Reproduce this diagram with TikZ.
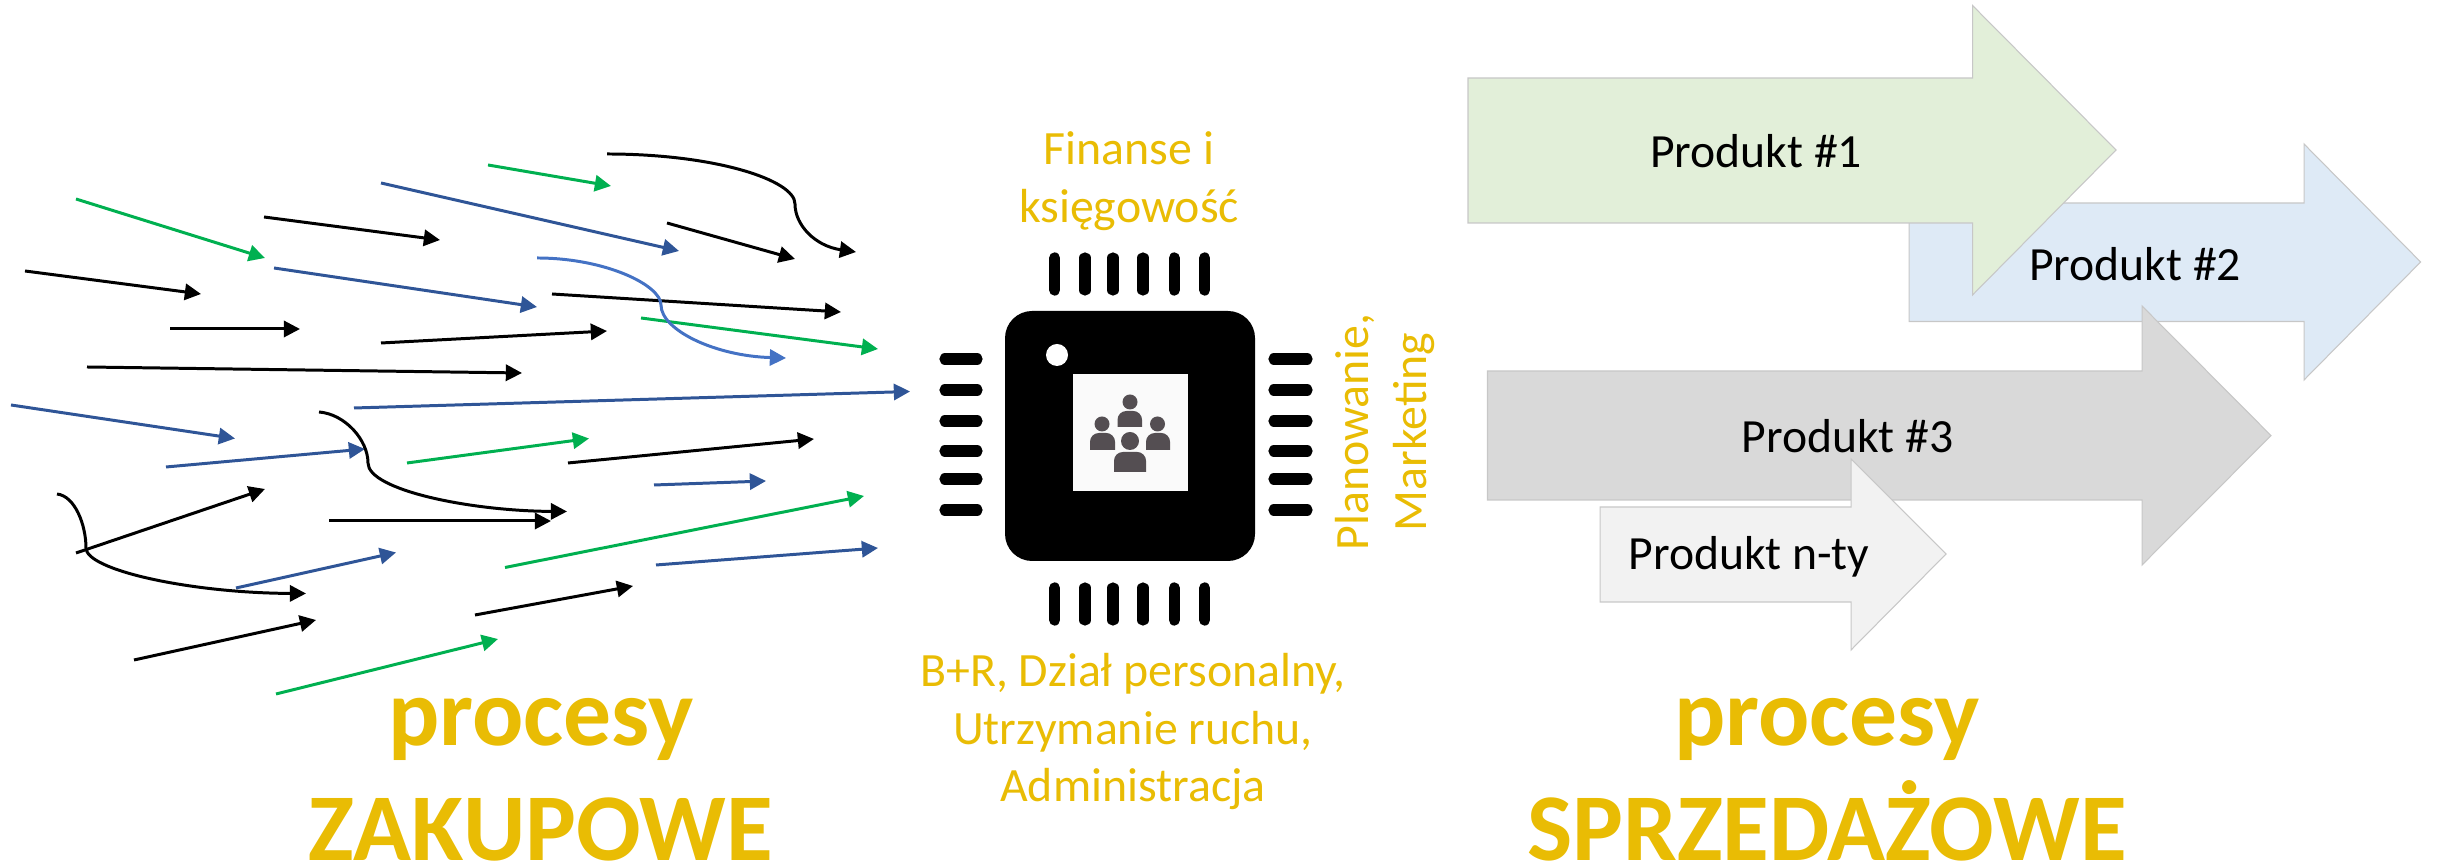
\documentclass[tikz,border=0pt]{standalone}
\usepackage{fontspec}
\setmainfont{Carlito}
\usetikzlibrary{arrows.meta}
\definecolor{zolty}{HTML}{E9BC04}
\definecolor{zielony}{HTML}{00B050}
\definecolor{niebieski}{HTML}{2F5597}
\definecolor{jasnyniebieski}{HTML}{4472C4}
\definecolor{ludzie}{HTML}{544E52}
\tikzset{
  strzalka/.style={-{Triangle[length=4.6pt,width=4.6pt]},line width=0.85pt},
  produkt/.style={draw=black!22,line width=0.3pt},
  nazwa/.style={font=\fontsize{13.55}{16.4}\selectfont,inner sep=0pt},
  dzial/.style={font=\fontsize{13.6}{16.4}\selectfont,text=zolty,align=center,inner sep=0pt},
  procesy/.style={font=\fontsize{27.2}{32.7}\selectfont\bfseries,text=zolty,align=center,inner sep=0pt},
  nozka/.style={line width=3.2pt,line cap=round}
}
\begin{document}
\begin{tikzpicture}[x=0.01cm,y=-0.01cm]
  \useasboundingbox (0,0) rectangle (2440,865);
  % proste strzalki
  \foreach \nazwa/\ax/\ay/\bx/\by in {c1/264/217/440/240,c2/25/271/201/294,c3/170/329/300/329,c4/381/343/607/331,c5/87/367/522/373,c6/667/223/795/259,c7/552/294/841/312,c8/568/463/814/439,c9/329/521/551/521,c10/76/553/265/489,c11/134/660/316/620,c12/475/615/633/586}{
    \coordinate (\nazwa s) at (\ax,\ay);
    \coordinate (\nazwa k) at (\bx,\by);
    \draw[strzalka,black] (\nazwa s) -- (\nazwa k);
  }
  \foreach \nazwa/\ax/\ay/\bx/\by in {z1/76/199/265/258,z2/488/165/611/186,z3/641/318/878/349,z4/407/463/589/438.5,z5/505/567.5/864/496,z6/276/694/498/639}{
    \coordinate (\nazwa s) at (\ax,\ay);
    \coordinate (\nazwa k) at (\bx,\by);
    \draw[strzalka,zielony] (\nazwa s) -- (\nazwa k);
  }
  \foreach \nazwa/\ax/\ay/\bx/\by in {n1/381/183/679/251,n2/274/268/537/307,n3/11/405/235/438.5,n4/354/408/910/391.5,n5/166/467/365/449,n6/654/485/766/481,n7/236/588/396/552.5,n8/656/565/878/548}{
    \coordinate (\nazwa s) at (\ax,\ay);
    \coordinate (\nazwa k) at (\bx,\by);
    \draw[strzalka,niebieski] (\nazwa s) -- (\nazwa k);
  }
  % krzywe
  \coordinate (k1s) at (607,154);
  \coordinate (k1k) at (856,252);
  \coordinate (k2s) at (537,258);
  \coordinate (k2k) at (786,358);
  \coordinate (k3s) at (319,412);
  \coordinate (k3k) at (567,511.5);
  \coordinate (k4s) at (57,494);
  \coordinate (k4k) at (306,593.5);
  \draw[strzalka,black] (k1s) .. controls (715,154) and (795,180) .. (795,204) .. controls (795,225) and (815,246) .. (k1k);
  \draw[strzalka,jasnyniebieski] (k2s) .. controls (605,258) and (661,285) .. (661,305) .. controls (661,330) and (715,356) .. (k2k);
  \draw[strzalka,black] (k3s) .. controls (345,414) and (368,440) .. (368,463) .. controls (368,490) and (470,511) .. (k3k);
  \draw[strzalka,black] (k4s) .. controls (75,496) and (86,525) .. (86,548) .. controls (86,570) and (190,593) .. (k4k);
  % uklad
  \fill[black,rounded corners=7.7pt] (1005,311) rectangle (1255,561);
  \foreach \px in {1054.6,1085,1113,1143,1174.3,1204.6}{
    \draw[nozka] (\px,258) -- (\px,290);
    \draw[nozka] (\px,588) -- (\px,620);
  }
  \foreach \py in {359,390,421,451,479,510}{
    \draw[nozka] (945,\py) -- (977,\py);
    \draw[nozka] (1274,\py) -- (1307,\py);
  }
  \fill[white] (1057,355) circle (11);
  \fill[white!98!black] (1072.5,374) rectangle (1188,491);
  \foreach \gx/\gy/\gr/\lx/\px/\tx/\dx in {1130/402/7.5/1117.5/1142/411/427,1102/424/7.5/1090/1115/433/450,1157.5/424/7.5/1146/1170/433/450,1130/441/9/1114/1146/452/472}{
    \fill[ludzie] (\gx,\gy) circle (\gr);
    \fill[ludzie] (\lx,\dx) [rounded corners=2.5pt] -- (\lx,\tx) -- (\px,\tx) [sharp corners] -- (\px,\dx) -- cycle;
  }
  % produkty
  \draw[produkt,fill={rgb,255:red,222;green,234;blue,246}] (1909,203) -- (2304,203) -- (2304,144) -- (2420.6,262) -- (2304,380) -- (2304,321.5) -- (1909,321.5) -- cycle;
  \draw[produkt,fill={rgb,255:red,226;green,239;blue,217}] (1468,78) -- (1972.5,78) -- (1972.5,5.5) -- (2116,150) -- (1972.5,295) -- (1972.5,223) -- (1468,223) -- cycle;
  \draw[produkt,fill={rgb,255:red,217;green,217;blue,217}] (1487.5,371) -- (2142,371) -- (2142,306) -- (2271,435.6) -- (2142,565) -- (2142,500) -- (1487.5,500) -- cycle;
  \draw[produkt,fill={rgb,255:red,242;green,242;blue,242}] (1600,507) -- (1851,507) -- (1851,459) -- (1946,554) -- (1851,650) -- (1851,602) -- (1600,602) -- cycle;
  \node[nazwa] (p1) at (1756,151.5) {Produkt \#1};
  \node[nazwa] (p2) at (2135,264) {Produkt \#2};
  \node[nazwa] (p3) at (1847.5,436.5) {Produkt \#3};
  \node[nazwa] (pn) at (1749,557) {Produkt n-ty};
  % napisy
  \node[dzial] (finanse) at (1129,181.5) {Finanse i\\księgowość};
  \node[dzial,rotate=90] (planowanie) at (1385,432) {Planowanie,\\Marketing};
  \node[dzial] (bir) at (1133,731.5) {B+R, Dział personalny,\\Utrzymanie ruchu,\\Administracja};
  \node[procesy] (zakupy) at (541,780) {procesy\\ZAKUPOWE};
  \node[procesy] (sprzedaz) at (1827,780) {procesy\\SPRZEDAŻOWE};
\end{tikzpicture}
\end{document}
